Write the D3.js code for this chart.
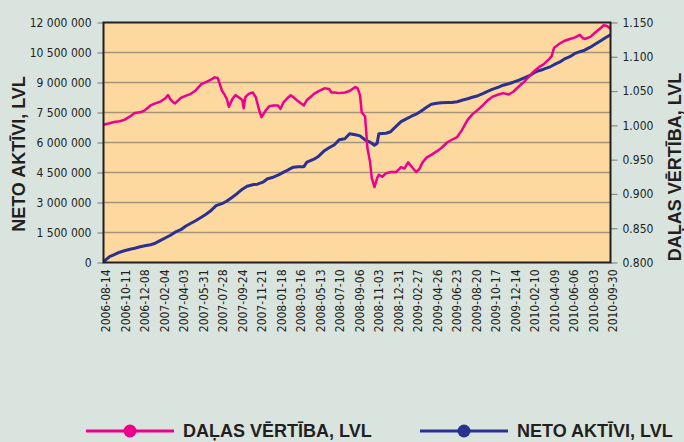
<!DOCTYPE html>
<html>
<head>
<meta charset="utf-8">
<script src="https://cdn.jsdelivr.net/npm/d3@7/dist/d3.min.js"></script>
<style>
	body { margin: 0; background: #dae4de; }
	svg { display: block; }
</style>
</head>
<body>
<div id="chart"></div>
<script>
// x axis labels (every 58 days)
var tickDates = ['2006-08-14', '2006-10-11', '2006-12-08', '2007-02-04', '2007-04-03', '2007-05-31', '2007-07-28',
	'2007-09-24', '2007-11-21', '2008-01-18', '2008-03-16', '2008-05-13', '2008-07-10', '2008-09-06', '2008-11-03',
	'2008-12-31', '2009-02-27', '2009-04-26', '2009-06-23', '2009-08-20', '2009-10-17', '2009-12-14', '2010-02-10',
	'2010-04-09', '2010-06-06', '2010-08-03', '2010-09-30'];

var leftTicks = [0, 1500000, 3000000, 4500000, 6000000, 7500000, 9000000, 10500000, 12000000];
var rightTicks = [0.80, 0.85, 0.90, 0.95, 1.00, 1.05, 1.10, 1.15];

// DAĻAS VĒRTĪBA (right axis)
var unitDates = ['2006-08-14', '2006-09-01', '2006-09-15', '2006-10-01', '2006-10-15', '2006-11-01', '2006-11-15',
	'2006-12-01', '2006-12-15', '2007-01-01', '2007-01-15', '2007-02-01', '2007-02-15', '2007-02-22', '2007-03-01',
	'2007-03-08', '2007-03-15', '2007-04-01', '2007-04-15', '2007-05-01', '2007-05-15', '2007-06-01', '2007-06-15',
	'2007-07-01', '2007-07-10', '2007-07-20', '2007-08-01', '2007-08-10', '2007-08-16', '2007-08-22', '2007-09-01',
	'2007-09-10', '2007-09-20', '2007-10-01', '2007-10-05', '2007-10-10', '2007-10-20', '2007-11-01', '2007-11-10',
	'2007-11-20', '2007-11-27', '2007-12-10', '2007-12-20', '2008-01-01', '2008-01-15', '2008-01-22', '2008-02-01',
	'2008-02-15', '2008-02-22', '2008-03-01', '2008-03-15', '2008-04-01', '2008-04-10', '2008-04-20', '2008-05-01',
	'2008-05-15', '2008-06-01', '2008-06-15', '2008-06-22', '2008-07-01', '2008-07-15', '2008-08-01', '2008-08-15',
	'2008-09-01', '2008-09-08', '2008-09-15', '2008-09-20', '2008-09-30', '2008-10-07', '2008-10-15', '2008-10-20',
	'2008-10-28', '2008-11-05', '2008-11-10', '2008-11-20', '2008-12-01', '2008-12-15', '2009-01-01', '2009-01-15',
	'2009-01-25', '2009-02-05', '2009-02-15', '2009-03-01', '2009-03-10', '2009-03-20', '2009-04-01', '2009-04-15',
	'2009-05-01', '2009-05-15', '2009-06-01', '2009-06-15', '2009-07-01', '2009-07-15', '2009-08-01', '2009-08-15',
	'2009-09-01', '2009-09-15', '2009-10-01', '2009-10-15', '2009-11-01', '2009-11-15', '2009-12-01', '2009-12-15',
	'2010-01-01', '2010-01-15', '2010-02-01', '2010-02-15', '2010-03-01', '2010-03-15', '2010-04-01', '2010-04-08',
	'2010-04-15', '2010-05-01', '2010-05-15', '2010-06-01', '2010-06-15', '2010-07-01', '2010-07-10', '2010-07-15',
	'2010-08-01', '2010-08-15', '2010-09-01', '2010-09-10', '2010-09-20', '2010-09-30'];
var unitValues = [1.001, 1.003, 1.005, 1.006, 1.008, 1.013, 1.018,
	1.019, 1.022, 1.029, 1.032, 1.035, 1.040, 1.044, 1.038,
	1.034, 1.032, 1.040, 1.043, 1.046, 1.051, 1.060, 1.063,
	1.067, 1.070, 1.069, 1.051, 1.044, 1.038, 1.027, 1.038,
	1.044, 1.041, 1.037, 1.025, 1.041, 1.046, 1.048, 1.041,
	1.022, 1.012, 1.022, 1.028, 1.029, 1.029, 1.024, 1.034,
	1.041, 1.044, 1.041, 1.035, 1.029, 1.037, 1.041, 1.046,
	1.050, 1.054, 1.053, 1.048, 1.048, 1.047, 1.048, 1.050,
	1.056, 1.054, 1.044, 1.019, 1.013, 0.967, 0.946, 0.923,
	0.910, 0.923, 0.928, 0.925, 0.930, 0.932, 0.932, 0.939,
	0.937, 0.946, 0.940, 0.932, 0.936, 0.946, 0.953, 0.957,
	0.962, 0.967, 0.975, 0.979, 0.983, 0.993, 1.008, 1.016,
	1.023, 1.029, 1.037, 1.042, 1.045, 1.047, 1.045, 1.049,
	1.057, 1.063, 1.072, 1.079, 1.085, 1.089, 1.097, 1.101,
	1.113, 1.119, 1.123, 1.126, 1.128, 1.132, 1.127, 1.126,
	1.129, 1.135, 1.142, 1.146, 1.145, 1.141];

// NETO AKTĪVI (left axis)
var assetDates = ['2006-08-14', '2006-09-01', '2006-09-15', '2006-10-01', '2006-10-15', '2006-11-01', '2006-11-15',
	'2006-12-01', '2006-12-15', '2007-01-01', '2007-01-15', '2007-02-01', '2007-02-15', '2007-03-01', '2007-03-15',
	'2007-04-01', '2007-04-15', '2007-05-01', '2007-05-15', '2007-06-01', '2007-06-15', '2007-07-01', '2007-07-15',
	'2007-08-01', '2007-08-15', '2007-09-01', '2007-09-15', '2007-10-01', '2007-10-15', '2007-11-01', '2007-11-15',
	'2007-12-01', '2007-12-15', '2008-01-01', '2008-01-15', '2008-02-01', '2008-02-15', '2008-03-01', '2008-03-15',
	'2008-04-01', '2008-04-10', '2008-05-01', '2008-05-15', '2008-06-01', '2008-06-15', '2008-07-01', '2008-07-15',
	'2008-08-01', '2008-08-15', '2008-09-01', '2008-09-15', '2008-10-01', '2008-10-15', '2008-10-28', '2008-11-05',
	'2008-11-10', '2008-12-01', '2008-12-15', '2009-01-01', '2009-01-15', '2009-02-01', '2009-02-15', '2009-03-01',
	'2009-03-15', '2009-04-01', '2009-04-15', '2009-05-01', '2009-05-15', '2009-06-01', '2009-06-15', '2009-07-01',
	'2009-07-15', '2009-08-01', '2009-08-15', '2009-09-01', '2009-09-15', '2009-10-01', '2009-10-15', '2009-11-01',
	'2009-11-15', '2009-12-01', '2009-12-15', '2010-01-01', '2010-01-15', '2010-02-01', '2010-02-15', '2010-03-01',
	'2010-03-15', '2010-04-01', '2010-04-15', '2010-05-01', '2010-05-15', '2010-06-01', '2010-06-15', '2010-07-01',
	'2010-07-15', '2010-08-01', '2010-08-15', '2010-09-01', '2010-09-15', '2010-09-30'];
var assetValues = [30000, 290000, 390000, 515000, 590000, 665000, 715000,
	790000, 840000, 890000, 965000, 1115000, 1240000, 1365000, 1515000,
	1640000, 1815000, 1965000, 2090000, 2265000, 2415000, 2615000, 2840000,
	2940000, 3065000, 3265000, 3440000, 3665000, 3815000, 3890000, 3915000,
	4015000, 4190000, 4265000, 4365000, 4515000, 4640000, 4765000, 4790000,
	4790000, 5015000, 5165000, 5315000, 5590000, 5740000, 5890000, 6140000,
	6190000, 6440000, 6390000, 6330000, 6115000, 6015000, 5865000, 5965000,
	6440000, 6465000, 6540000, 6815000, 7040000, 7190000, 7315000, 7415000,
	7565000, 7765000, 7915000, 7965000, 7990000, 8000000, 8000000, 8040000,
	8115000, 8190000, 8265000, 8340000, 8440000, 8565000, 8665000, 8765000,
	8865000, 8940000, 9015000, 9115000, 9215000, 9340000, 9490000, 9590000,
	9665000, 9765000, 9890000, 10015000, 10165000, 10290000, 10440000, 10540000,
	10615000, 10765000, 10915000, 11090000, 11240000, 11390000];

var width = 684,
	height = 442,
	plotLeft = 103.5, plotRight = 610.5, plotTop = 22.5, plotBottom = 262.5;

var pink = '#ec008c',
	blue = '#2b3190',
	ink = '#231f20',
	tickFont = '"DejaVu Sans Condensed", "DejaVu Sans", sans-serif',
	titleFont = '"Liberation Sans", Arial, sans-serif';

var parse = d3.utcParse('%Y-%m-%d');

var svg = d3.select('#chart').append('svg').attr('width', width).attr('height', height);

svg.append('rect').attr('width', width).attr('height', height).style('fill', '#dae4de');

var x = d3.scaleUtc()
	.domain([parse(tickDates[0]), parse(tickDates[tickDates.length - 1])])
	.range([plotLeft, plotRight]);
var yLeft = d3.scaleLinear().domain([0, 12000000]).range([plotBottom, plotTop]);
var yRight = d3.scaleLinear().domain([0.8, 1.15]).range([plotBottom, plotTop]);

// plot background
svg.append('rect')
	.attr('x', plotLeft).attr('y', plotTop)
	.attr('width', plotRight - plotLeft).attr('height', plotBottom - plotTop)
	.style('fill', '#fdd9a0');

// gridlines
svg.append('g')
	.selectAll('line')
	.data(leftTicks.slice(1, -1))
	.enter().append('line')
	.attr('x1', plotLeft).attr('x2', plotRight)
	.attr('y1', function (d) { return yLeft(d); })
	.attr('y2', function (d) { return yLeft(d); })
	.style('stroke', '#a69479')
	.style('stroke-width', 1.5);

var spaceFormat = d3.formatLocale({ decimal: '.', thousands: ' ', grouping: [3], currency: ['', ''] }).format(',');

// left axis
var gLeft = svg.append('g')
	.attr('transform', 'translate(' + plotLeft + ',0)')
	.call(d3.axisLeft(yLeft).tickValues(leftTicks).tickFormat(spaceFormat).tickSize(6).tickPadding(6));
gLeft.select('.domain').remove();
gLeft.selectAll('line').style('stroke', '#8a8a86').style('stroke-width', 1.2);
gLeft.selectAll('text').style('font-family', tickFont).style('font-size', '12px').style('fill', ink);

// right axis
var gRight = svg.append('g')
	.attr('transform', 'translate(' + plotRight + ',0)')
	.call(d3.axisRight(yRight).tickValues(rightTicks).tickFormat(d3.format('.3f')).tickSize(7).tickPadding(5));
gRight.select('.domain').remove();
gRight.selectAll('line').style('stroke', '#8a8a86').style('stroke-width', 1.2);
gRight.selectAll('text').style('font-family', tickFont).style('font-size', '12px').style('fill', ink);

// bottom axis, rotated labels
var gBottom = svg.append('g')
	.attr('transform', 'translate(0,' + plotBottom + ')')
	.call(d3.axisBottom(x).tickValues(tickDates.map(parse)).tickFormat(d3.utcFormat('%Y-%m-%d')).tickSize(0));
gBottom.select('.domain').remove();
gBottom.selectAll('text')
	.attr('transform', 'translate(2,7) rotate(-90)')
	.attr('x', 0).attr('y', 0).attr('dy', '0.35em')
	.style('text-anchor', 'end')
	.style('font-family', tickFont).style('font-size', '12px').style('fill', ink);

// lines
var unitLine = d3.line()
	.x(function (d, i) { return x(parse(unitDates[i])); })
	.y(function (d) { return yRight(d); });
var assetLine = d3.line()
	.x(function (d, i) { return x(parse(assetDates[i])); })
	.y(function (d) { return yLeft(d); });

svg.append('path')
	.attr('d', assetLine(assetValues))
	.style('fill', 'none').style('stroke', blue).style('stroke-width', 3).style('stroke-linejoin', 'round');
svg.append('path')
	.attr('d', unitLine(unitValues))
	.style('fill', 'none').style('stroke', pink).style('stroke-width', 2.5).style('stroke-linejoin', 'round');

// plot frame
svg.append('rect')
	.attr('x', plotLeft).attr('y', plotTop)
	.attr('width', plotRight - plotLeft).attr('height', plotBottom - plotTop)
	.style('fill', 'none').style('stroke', ink).style('stroke-width', 2);

// axis titles
svg.append('text')
	.text('NETO AKTĪVI, LVL')
	.attr('transform', 'translate(25,154) rotate(-90)')
	.attr('text-anchor', 'middle')
	.style('font-family', titleFont).style('font-weight', 'bold').style('font-size', '18px').style('fill', ink);
svg.append('text')
	.text('DAĻAS VĒRTĪBA, LVL')
	.attr('transform', 'translate(681,167) rotate(-90)')
	.attr('text-anchor', 'middle')
	.style('font-family', titleFont).style('font-weight', 'bold').style('font-size', '18px').style('fill', ink);

// legend
var legend = [
	{ name: 'DAĻAS VĒRTĪBA, LVL', color: pink, x: 86 },
	{ name: 'NETO AKTĪVI, LVL', color: blue, x: 420 }
];
var lg = svg.append('g').selectAll('g')
	.data(legend)
	.enter().append('g')
	.attr('transform', function (d) { return 'translate(' + d.x + ',431)'; });
lg.append('line')
	.attr('x1', 0).attr('x2', 88)
	.style('stroke', function (d) { return d.color; })
	.style('stroke-width', 3);
lg.append('circle')
	.attr('cx', 44).attr('r', 6.5)
	.style('fill', function (d) { return d.color; });
lg.append('text')
	.text(function (d) { return d.name; })
	.attr('x', 97).attr('dy', '0.36em')
	.style('font-family', titleFont).style('font-weight', 'bold').style('font-size', '18px').style('fill', ink);
</script>
</body>
</html>
